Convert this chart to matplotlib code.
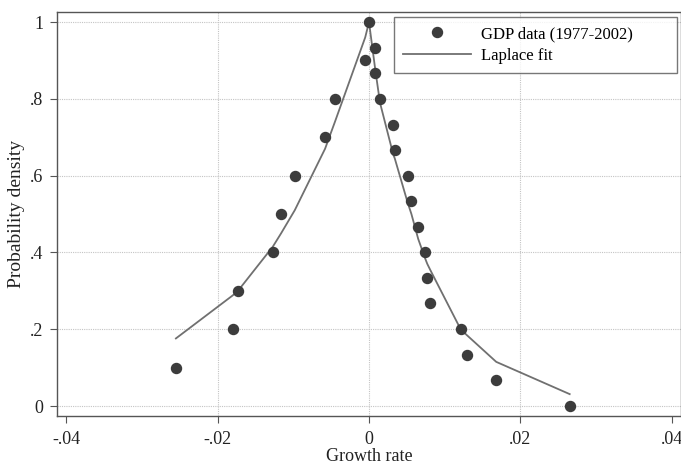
import matplotlib
matplotlib.use("Agg")
import matplotlib.pyplot as plt

# GDP growth data points
gdp_x = [0.0, 0.0008, -0.0005, 0.0008, 0.00145, -0.0045, 0.0032, -0.0058,
         0.0034, 0.0051, -0.0098, 0.0056, 0.0065, -0.0116, 0.0074, -0.0127,
         0.0077, 0.0081, -0.0173, 0.0121, -0.018, 0.0129, 0.0168, -0.0255,
         0.0265]
gdp_y = [1.0, 0.933, 0.9, 0.867, 0.8, 0.8, 0.733, 0.7,
         0.667, 0.6, 0.6, 0.533, 0.467, 0.5, 0.4, 0.4,
         0.333, 0.267, 0.3, 0.2, 0.2, 0.133, 0.067, 0.1,
         0.0]

# Laplace fit line vertices
fit_x = [-0.0255, -0.018, -0.0173, -0.0127, -0.0116, -0.0098, -0.0058, -0.0045,
         -0.0005, 0.0, 0.0008, 0.00145, 0.0032, 0.0034, 0.0051, 0.0056, 0.0065,
         0.0074, 0.0077, 0.0081, 0.0121, 0.0129, 0.0168, 0.0265]
fit_y = [0.176, 0.288, 0.30, 0.415, 0.45, 0.51, 0.67, 0.74,
         0.96, 1.0, 0.88, 0.79, 0.655, 0.645, 0.53, 0.50, 0.435,
         0.385, 0.37, 0.354, 0.20, 0.185, 0.115, 0.031]

x_ticks = [-0.04, -0.02, 0.0, 0.02, 0.04]
x_labels = ["-.04", "-.02", "0", ".02", ".04"]
y_ticks = [0.0, 0.2, 0.4, 0.6, 0.8, 1.0]
y_labels = ["0", ".2", ".4", ".6", ".8", "1"]

plt.rcParams["font.family"] = ["Liberation Serif", "DejaVu Serif"]

fig = plt.figure(figsize=(6.81, 4.63), dpi=100)
ax = fig.add_axes((0.0837, 0.1015, 0.9163, 0.8725))

frame_col = "#555555"
grid_col = "#c4c4c4"
text_col = "#222222"

for y in y_ticks:
    ax.axhline(y, color=grid_col, lw=0.8, ls=(0, (1, 1)), zorder=1)
for x in x_ticks[1:-1]:
    ax.axvline(x, color=grid_col, lw=0.8, ls=(0, (1, 1)), zorder=1)

ax.plot(fit_x, fit_y, color="#707070", lw=1.3, zorder=2, label="Laplace fit")
ax.plot(gdp_x, gdp_y, ls="none", marker="o", ms=7.2, color="#3c3c3c",
        zorder=3, label="GDP data (1977-2002)")

ax.set_xlim(-0.0412, 0.0412)
ax.set_ylim(-0.026, 1.026)
ax.set_xticks(x_ticks)
ax.set_xticklabels(x_labels)
ax.set_yticks(y_ticks)
ax.set_yticklabels(y_labels)
ax.tick_params(direction="out", length=5, width=0.8, color=frame_col,
               labelsize=13, labelcolor=text_col, pad=5)
ax.tick_params(axis="x", pad=6)

for side in ax.spines.values():
    side.set_color(frame_col)
    side.set_linewidth(1.0)

ax.set_xlabel("Growth rate", fontsize=13, color=text_col)
ax.xaxis.set_label_coords(0.5, -0.078)
ax.set_ylabel("Probability density", fontsize=14, color=text_col)
ax.yaxis.set_label_coords(-0.052, 0.5)

handles, labels = ax.get_legend_handles_labels()
leg = ax.legend(handles[::-1], labels[::-1], loc="upper right",
                bbox_to_anchor=(0.540, 0.5, 0.4536, 0.4876), mode="expand",
                fontsize=12, frameon=True, fancybox=False, handlelength=4.1,
                handletextpad=0.6, borderpad=0.55, labelspacing=0.35,
                borderaxespad=0)
leg.get_frame().set_edgecolor(frame_col)
leg.get_frame().set_linewidth(1.0)

fig.savefig("out.png", dpi=100, facecolor="white")
